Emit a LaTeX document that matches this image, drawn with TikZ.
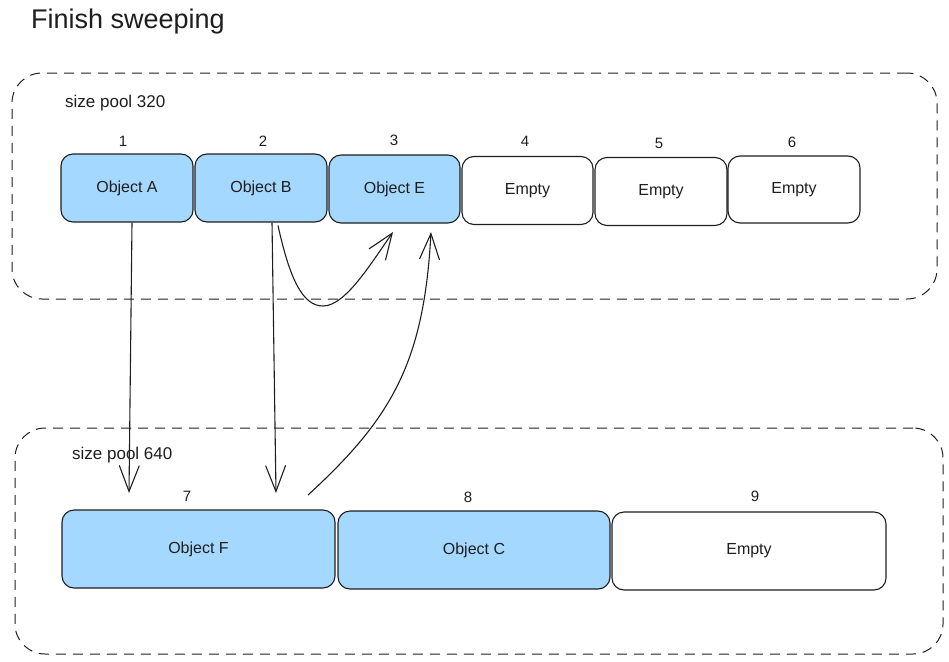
\documentclass[tikz,border=0pt]{standalone}
\usepackage{fontspec}
\setmainfont{Liberation Sans}
\usetikzlibrary{arrows.meta}
\definecolor{objblue}{HTML}{A5D8FF}
\definecolor{ink}{HTML}{1E1E1E}
\begin{document}
\begin{tikzpicture}[x=1pt,y=-1pt,
  slot/.style={draw=ink, rounded corners=12pt, line width=1.1pt, inner sep=0pt,
    font=\fontsize{16}{18}\selectfont, text=ink},
  full/.style={slot, fill=objblue},
  pool/.style={draw=ink, dash pattern=on 10pt off 7pt, rounded corners=30pt,
    line width=1pt, inner sep=0pt},
  num/.style={font=\fontsize{15}{17}\selectfont, text=ink},
  lbl/.style={font=\fontsize{17}{19}\selectfont, text=ink, anchor=west, inner sep=0pt},
  arr/.style={draw=ink, line width=1.1pt, -{Straight Barb[length=26pt,width=20pt,line width=1.1pt]}}
]
\useasboundingbox (0,0) rectangle (949,661);
\node[lbl, font=\fontsize{27}{31}\selectfont] (title) at (31,22) {Finish sweeping};

% pools
\node[pool, minimum width=925pt, minimum height=226pt] (p320) at (474.5,186) {};
\node[pool, minimum width=928pt, minimum height=226pt] (p640) at (479,541) {};
\node[lbl] (l320) at (65,103) {size pool 320};
\node[lbl] (l640) at (72,455) {size pool 640};

% top slots
\node[full, minimum width=132pt, minimum height=68pt] (A) at (127,188) {Object A};
\node[full, minimum width=132pt, minimum height=68pt] (B) at (261,188) {Object B};
\node[full, minimum width=131pt, minimum height=68pt] (E) at (394.5,189) {Object E};
\node[slot, minimum width=131pt, minimum height=68pt] (S4) at (527.5,190.5) {Empty};
\node[slot, minimum width=132pt, minimum height=68pt] (S5) at (661,191.5) {Empty};
\node[slot, minimum width=132pt, minimum height=67pt] (S6) at (794,189.5) {Empty};

\node[num] (n1) at (123,141) {1};
\node[num] (n2) at (263,141) {2};
\node[num] (n3) at (394,140) {3};
\node[num] (n4) at (525,141) {4};
\node[num] (n5) at (659,143) {5};
\node[num] (n6) at (792,142) {6};

% bottom slots
\node[full, minimum width=273pt, minimum height=78pt] (F) at (198.5,549) {Object F};
\node[full, minimum width=272pt, minimum height=78pt] (C) at (474,550) {Object C};
\node[slot, minimum width=274pt, minimum height=78pt] (S9) at (749,551) {Empty};

\node[num] (n7) at (187,496) {7};
\node[num] (n8) at (468,497) {8};
\node[num] (n9) at (755,496) {9};

% arrow end points
\coordinate (aEnd) at (129,493);
\coordinate (bEnd) at (276,493);
\coordinate (eIn1) at (393,232);
\coordinate (eIn2) at (431,232);
\coordinate (fOut) at (308,495);

\draw[arr] ([xshift=5pt]A.south) -- (aEnd);
\draw[arr] ([xshift=11pt]B.south) -- (bEnd);
\draw[arr] ([xshift=17pt,yshift=-3pt]B.south) .. controls (290,280) and (303,306) .. (323,306)
   .. controls (345,306) and (370,265) .. (eIn1);
\draw[arr] (fOut) .. controls (392,418) and (424,362) .. (eIn2);
\end{tikzpicture}
\end{document}
